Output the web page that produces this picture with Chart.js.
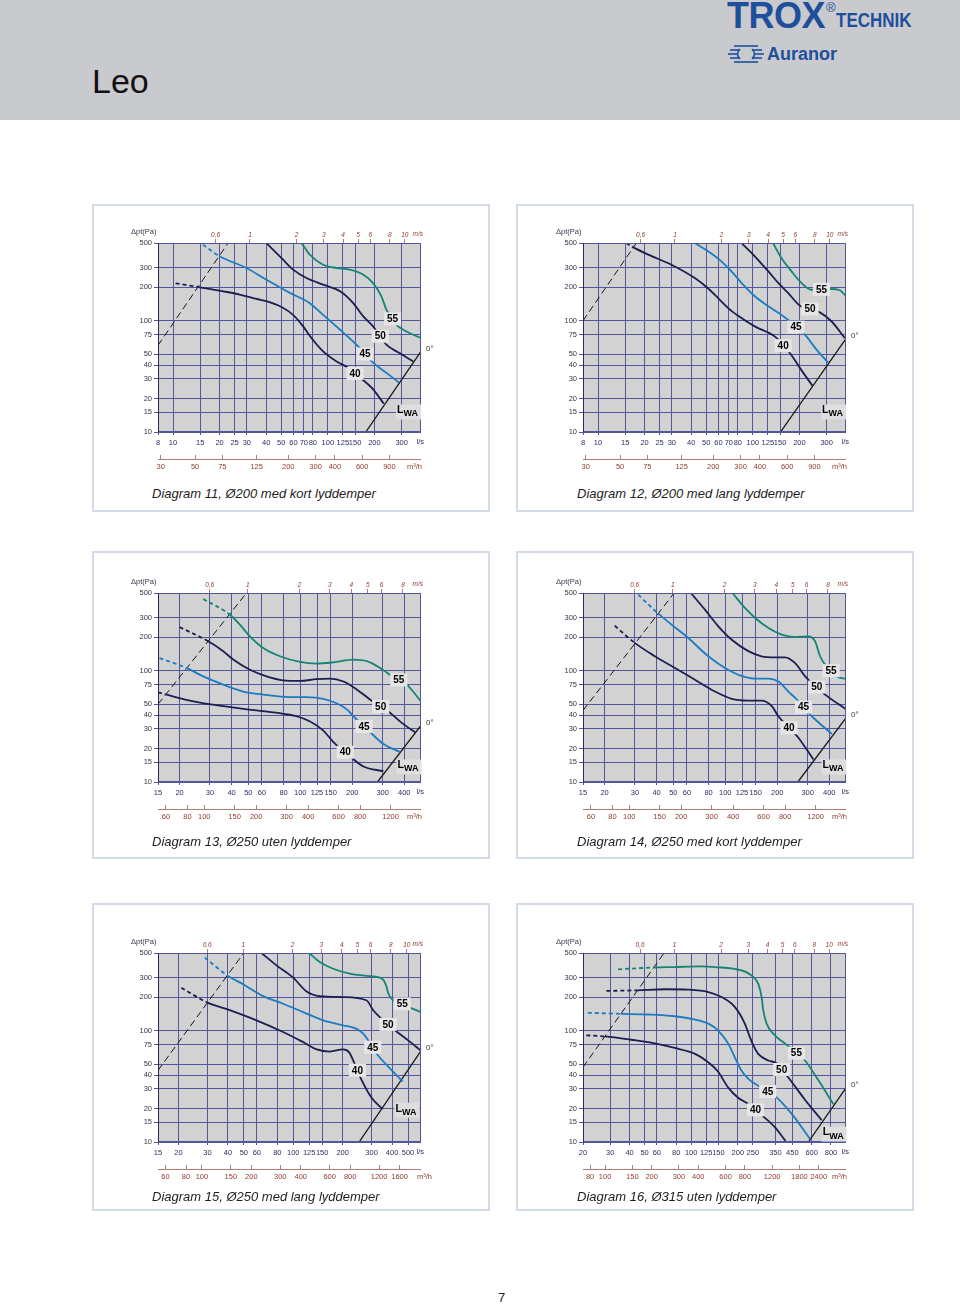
<!DOCTYPE html>
<html><head><meta charset="utf-8">
<script src="https://cdn.jsdelivr.net/npm/chart.js@4.4.0/dist/chart.umd.min.js"></script>
<style>
html,body{margin:0;padding:0;background:#fff;}
body{width:960px;height:1304px;position:relative;overflow:hidden;font-family:"Liberation Sans",Arial,Helvetica,sans-serif;}
#hdr{position:absolute;left:0;top:0;width:960px;height:120px;background:#c9cacd;}
.abs{position:absolute;white-space:nowrap;line-height:1;}
#title{left:92px;top:64px;font-size:34px;color:#111;}
#trox{left:727px;top:-2px;font-size:36px;font-weight:bold;color:#1d4f9c;letter-spacing:-0.5px;}
#reg{left:826px;top:1px;font-size:13px;color:#1d4f9c;}
#technik{left:836px;top:10px;font-size:20px;font-weight:bold;color:#1d4f9c;transform:scaleX(0.85);transform-origin:left top;}
#auranor{left:767px;top:45px;font-size:18px;font-weight:bold;color:#1d4f9c;}
#icon{position:absolute;left:728px;top:44px;}
.panel{position:absolute;width:398px;height:308px;box-sizing:border-box;border:2px solid #d3dbe6;background:#fff;}
.cap{position:absolute;font-style:italic;font-size:13px;color:#1e1e1e;white-space:nowrap;line-height:1;}
canvas{position:absolute;}
#pg{left:498px;top:1291px;font-size:13px;color:#222;}
</style>
</head>
<body>
<div id="hdr"></div>
<div id="title" class="abs">Leo</div>
<div id="trox" class="abs">TROX</div>
<div id="reg" class="abs">®</div>
<div id="technik" class="abs">TECHNIK</div>
<svg id="icon" width="36" height="20" viewBox="0 0 36 20">
  <g stroke="#1d4f9c" stroke-width="1.6">
    <line x1="6" y1="2" x2="30" y2="2"/>
    <line x1="2" y1="6" x2="12" y2="6"/><line x1="24" y1="6" x2="34" y2="6"/>
    <line x1="0" y1="10" x2="9" y2="10"/><line x1="27" y1="10" x2="36" y2="10"/>
    <line x1="2" y1="14" x2="12" y2="14"/><line x1="24" y1="14" x2="34" y2="14"/>
    <line x1="6" y1="18" x2="30" y2="18"/>
  </g>
  <path d="M12 5 Q7 10 12 15 M24 5 Q29 10 24 15" stroke="#1d4f9c" stroke-width="1.6" fill="none"/>
</svg>
<div id="auranor" class="abs">Auranor</div>

<div class="panel" style="left:92px;top:204px"></div>
<div class="panel" style="left:516px;top:204px"></div>
<div class="panel" style="left:92px;top:551px"></div>
<div class="panel" style="left:516px;top:551px"></div>
<div class="panel" style="left:92px;top:903px"></div>
<div class="panel" style="left:516px;top:903px"></div>

<canvas id="c11" width="398" height="281" style="left:92px;top:204px"></canvas>
<canvas id="c12" width="398" height="281" style="left:517px;top:204px"></canvas>
<canvas id="c13" width="398" height="281" style="left:92px;top:554px"></canvas>
<canvas id="c14" width="398" height="281" style="left:517px;top:554px"></canvas>
<canvas id="c15" width="398" height="281" style="left:92px;top:914px"></canvas>
<canvas id="c16" width="398" height="281" style="left:517px;top:914px"></canvas>

<div class="cap" style="left:152px;top:487px">Diagram 11, Ø200 med kort lyddemper</div>
<div class="cap" style="left:577px;top:487px">Diagram 12, Ø200 med lang lyddemper</div>
<div class="cap" style="left:152px;top:835px">Diagram 13, Ø250 uten lyddemper</div>
<div class="cap" style="left:577px;top:835px">Diagram 14, Ø250 med kort lyddemper</div>
<div class="cap" style="left:152px;top:1190px">Diagram 15, Ø250 med lang lyddemper</div>
<div class="cap" style="left:577px;top:1190px">Diagram 16, Ø315 uten lyddemper</div>
<div id="pg" class="abs">7</div>

<script>
// ---------- tick values ----------
const yTicks = [10, 15, 20, 30, 40, 50, 75, 100, 200, 300, 500];

const d11x = [8, 10, 15, 20, 25, 30, 40, 50, 60, 70, 80, 100, 125, 150, 200, 300];
const d11m3 = [30, 50, 75, 125, 200, 300, 400, 600, 900];
const d11ms = [0.6, 1, 2, 3, 4, 5, 6, 8, 10];
const d13x = [15, 20, 30, 40, 50, 60, 80, 100, 125, 150, 200, 300, 400];
const d13m3 = [60, 80, 100, 150, 200, 300, 400, 600, 800, 1200];
const d13ms = [0.6, 1, 2, 3, 4, 5, 6, 8];
const d15x = [15, 20, 30, 40, 50, 60, 80, 100, 125, 150, 200, 300, 400, 500];
const d15m3 = [60, 80, 100, 150, 200, 300, 400, 600, 800, 1200, 1600];
const d15ms = [0.6, 1, 2, 3, 4, 5, 6, 8, 10];
const d16x = [20, 30, 40, 50, 60, 80, 100, 125, 150, 200, 250, 350, 450, 600, 800];
const d16m3 = [80, 100, 150, 200, 300, 400, 600, 800, 1200, 1800, 2400];
const d16ms = [0.6, 1, 2, 3, 4, 5, 6, 8, 10];

// ---------- series: [l/s, Pa] ----------
// Diagram 11
const d11c40 = [[10.4,217],[14.9,200],[21.1,184],[27,172],[34.6,157],[40.1,150],[50.2,133],[59.7,113],[69.3,89],[78.4,70],[93.3,53],[114,43],[135,38],[161,31],[192,25],[230,18]];
const d11c45 = [[15.6,483],[20,380],[29.8,298],[40.1,234],[56.8,178],[76.5,144],[93.3,113],[120,83],[153,61],[196,42],[239,34],[287,28]];
const d11c50 = [[40.1,500],[51.4,354],[59.7,288],[72.8,242],[93.3,211],[120,184],[146,144],[169,110],[196,89],[239,61],[292,51],[356,43]];
const d11c55 = [[67.6,500],[76.5,393],[93.3,319],[114,298],[139,288],[169,260],[196,218],[222,166],[239,126],[278,92],[322,80],[400,70]];
const d11lim = [[8,60],[22.7,500]];
const d11lwa = [[176,10],[400,53]];
// Diagram 12
const d12c40 = [[15.2,500],[16.6,464],[21.1,393],[29.8,319],[42.2,242],[50.2,201],[59.7,160],[69.3,130],[80.4,111],[103,89],[139,72],[174,51],[206,36],[243,26]];
const d12c45 = [[42.2,500],[51.4,421],[62.7,342],[72.8,278],[84.5,219],[103,166],[126,135],[153,113],[217,75],[258,55],[307,42]];
const d12c50 = [[84.5,500],[103,380],[126,278],[146,219],[169,178],[201,137],[271,119],[322,99],[393,70]];
const d12c55 = [[135,500],[153,367],[178,278],[206,219],[239,190],[322,193],[365,188],[400,166]];
const d12lim = [[8,100],[17.7,500]];
const d12lwa = [[151,10],[400,69]];
// Diagram 13
const d13c40 = [[15,64],[16.8,61],[22.9,54],[35.8,48],[55.8,44],[79.7,41],[95.2,39],[114,35],[136,29],[155,23],[194,17],[232,13.8],[303,12.5]];
const d13c45 = [[15.3,130],[21.9,106],[27.4,89],[35.8,75],[46.7,65],[61,61],[87.1,58],[109,58],[136,56],[162,51],[186,45],[203,39],[254,28],[303,22],[379,18.6]];
const d13c50 = [[20,247],[29.3,184],[35.8,150],[40.9,126],[51.1,102],[63.8,89],[79.7,82],[99.6,81],[124,84],[149,85],[178,80],[212,68],[254,55],[324,43],[387,34],[463,28]];
const d13c55 = [[27.4,442],[39.1,319],[44.7,260],[51.1,204],[61,160],[76.2,135],[99.6,120],[124,116],[155,119],[203,126],[243,122],[290,106],[331,92],[414,75],[500,53]];
const d13lim = [[15,50],[48.8,500]];
const d13lwa = [[280,10],[500,32.3]];
// Diagram 14
const d14c40 = [[22.9,254],[29.9,178],[39.1,135],[51.1,106],[66.7,83],[87.1,65],[109,56],[136,54],[162,54],[186,48],[203,39],[265,25],[324,15.9]];
const d14c45 = [[31.3,483],[40.9,326],[48.8,260],[61,197],[79.7,135],[99.6,106],[124,90],[149,85],[178,85],[203,80],[232,65],[254,57],[317,39],[414,27]];
const d14c50 = [[63.2,500],[76.2,354],[91.1,251],[109,190],[136,150],[162,135],[194,132],[222,132],[254,117],[290,89],[379,61],[500,45]];
const d14c55 = [[110,500],[130,367],[149,298],[178,242],[212,211],[254,201],[303,204],[331,184],[354,135],[379,113],[442,89],[500,84]];
const d14lim = [[15,44],[50.6,500]];
const d14lwa = [[263,10],[500,37.6]];
// Diagram 15
const d15c40 = [[20.8,244],[29.6,181],[41,153],[59.7,124],[86.7,97.5],[115,79],[139,68],[167,65],[201,68],[219,64],[232,54],[261,36],[300,25],[350,19.7]];
const d15c45 = [[28.9,454],[40.1,311],[49.5,262],[65.5,205],[86.7,175],[115,147],[152,124],[201,112],[243,104],[267,94],[286,82],[329,60],[388,46],[464,35]];
const d15c50 = [[64,500],[79,387],[99.9,300],[120,227],[145,205],[201,201],[279,188],[307,153],[345,128],[416,101],[501,82],[600,66]];
const d15c55 = [[125,500],[145,415],[175,361],[221,326],[279,311],[337,300],[355,285],[368,255],[380,215],[397,195],[501,164],[600,147]];
const d15lim = [[15,44],[49.9,500]];
const d15lwa = [[252,10],[600,66]];
// Diagram 16
const d16c40 = [[21,91],[27.7,89],[41.1,83],[58.2,77],[78.3,70],[106,62],[129,52],[149,43],[173,31],[201,25],[234,22],[292,17],[347,13.6],[407,10.2]];
const d16c45 = [[21.5,145],[35.1,142],[52.7,140],[78.3,135],[106,126],[129,116],[149,101],[173,77],[191,58],[211,44],[234,37],[271,32],[347,26],[445,18],[585,10.7]];
const d16c50 = [[28.3,228],[45,231],[67.5,236],[95.6,234],[129,223],[157,201],[191,164],[222,116],[239,88],[252,74],[271,62],[315,54],[356,51],[424,38],[543,24],[696,15.7]];
const d16c55 = [[33.7,357],[57,370],[78.3,374],[117,379],[142,374],[211,349],[245,315],[271,265],[285,201],[292,153],[307,116],[347,91],[403,77],[543,54],[662,36],[828,22]];
const d16lim = [[20,47],[66.8,500]];
const d16lwa = [[571,10],[1000,30.6]];

const curveNames = ['40', '45', '50', '55'];

// ---------- style ----------
const FONT = '"Liberation Sans", Arial, Helvetica, sans-serif';
const GRID = '#53569a';
const RED = '#8e3b2c';
const REDLINE = '#b27c70';
const NAVY = '#1c1e50';
const BLUE = '#1c7cc1';
const TEAL = '#148575';
const CURVE_COLORS = [NAVY, BLUE, NAVY, TEAL];

const specs = [
  {id:'c11', diam:200, range:[8,400],  xt:d11x, m3:d11m3, ms:d11ms, curves:[d11c40,d11c45,d11c50,d11c55], lim:d11lim, lwa:d11lwa, labX:[150,174,218,262], lwaLab:[330,15.3], m3shift:0},
  {id:'c12', diam:200, range:[8,400],  xt:d11x, m3:d11m3, ms:d11ms, curves:[d12c40,d12c45,d12c50,d12c55], lim:d12lim, lwa:d12lwa, labX:[157,190,234,278], lwaLab:[330,15.3], m3shift:0},
  {id:'c13', diam:250, range:[15,500], xt:d13x, m3:d13m3, ms:d13ms, curves:[d13c40,d13c45,d13c50,d13c55], lim:d13lim, lwa:d13lwa, labX:[182,234,292,372], lwaLab:[423,13.8], m3shift:0},
  {id:'c14', diam:250, range:[15,500], xt:d13x, m3:d13m3, ms:d13ms, curves:[d14c40,d14c45,d14c50,d14c55], lim:d14lim, lwa:d14lwa, labX:[234,284,339,410], lwaLab:[423,13.8], m3shift:0},
  {id:'c15', diam:250, range:[15,600], xt:d15x, m3:d15m3, ms:d15ms, curves:[d15c40,d15c45,d15c50,d15c55], lim:d15lim, lwa:d15lwa, labX:[246,305,378,461], lwaLab:[489,19.5], m3shift:10},
  {id:'c16', diam:315, range:[20,1000],xt:d16x, m3:d16m3, ms:d16ms, curves:[d16c40,d16c45,d16c50,d16c55], lim:d16lim, lwa:d16lwa, labX:[260,312,384,478], lwaLab:[832,11.9], m3shift:0}
];

function toPts(a) { return a.map(p => ({x: p[0], y: p[1]})); }
function fmt(v) { return String(v).replace('.', ','); }
function logInterp(arr, x) {
  for (let i = 0; i < arr.length - 1; i++) {
    const [x0, y0] = arr[i], [x1, y1] = arr[i + 1];
    if (x >= x0 && x <= x1) {
      const t = (Math.log(x) - Math.log(x0)) / (Math.log(x1) - Math.log(x0));
      return Math.exp(Math.log(y0) + t * (Math.log(y1) - Math.log(y0)));
    }
  }
  return arr[arr.length - 1][1];
}
function lineAt(l, x) {
  const [[x0, y0], [x1, y1]] = l;
  const k = (Math.log(y1) - Math.log(y0)) / (Math.log(x1) - Math.log(x0));
  return Math.exp(Math.log(y0) + k * (Math.log(x) - Math.log(x0)));
}

function makeChart(s) {
  const q1 = Math.PI * Math.pow(s.diam / 1000, 2) / 4 * 1000; // l/s at 1 m/s
  const datasets = [];
  s.curves.forEach((c, i) => datasets.push({
    data: toPts(c), borderColor: CURVE_COLORS[i], borderWidth: 1.8, pointRadius: 0,
    cubicInterpolationMode: 'monotone', fill: false,
    segment: { borderDash: ctx => {
      const p0 = ctx.p0.parsed, p1 = ctx.p1.parsed;
      const mx = Math.sqrt(p0.x * p1.x), my = Math.sqrt(p0.y * p1.y);
      return my > lineAt(s.lim, mx) ? [4, 3] : undefined;
    } }
  }));
  datasets.push({data: toPts(s.lim), borderColor: '#161616', borderWidth: 1, borderDash: [7, 4], pointRadius: 0, tension: 0, fill: false});
  datasets.push({data: toPts(s.lwa), borderColor: '#161616', borderWidth: 1.3, pointRadius: 0, tension: 0, fill: false});

  const deco = {
    id: 'deco' + s.id,
    beforeDraw(ch) {
      const a = ch.chartArea, c = ch.ctx;
      c.save(); c.fillStyle = '#d2d2d2';
      c.fillRect(a.left, a.top, a.right - a.left, a.bottom - a.top);
      c.restore();
    },
    afterDraw(ch) {
      const a = ch.chartArea, c = ch.ctx, xs = ch.scales.x, ys = ch.scales.y, xm = ch.scales.xm;
      c.save();
      // plot frame
      c.strokeStyle = GRID; c.lineWidth = 1;
      c.strokeRect(Math.round(a.left) + 0.5, Math.round(a.top) + 0.5, Math.round(a.right - a.left) - 1, Math.round(a.bottom - a.top) - 1);
      c.strokeStyle = '#2a2c55';
      c.beginPath(); c.moveTo(Math.round(a.left) + 0.5, a.top); c.lineTo(Math.round(a.left) + 0.5, a.bottom); c.stroke();
      // m3/h axis line
      const ly = Math.round(xm.top + 4) + 0.5;
      c.strokeStyle = REDLINE; c.beginPath(); c.moveTo(a.left, ly); c.lineTo(a.right, ly); c.stroke();
      // axis titles / units
      c.textBaseline = 'middle';
      c.font = '7.5px ' + FONT; c.fillStyle = '#333648'; c.textAlign = 'left';
      c.fillText('Δpt(Pa)', a.left - 27, a.top - 11);
      c.font = 'italic 6.5px ' + FONT; c.fillStyle = RED; c.textAlign = 'right';
      c.fillText('m/s', a.right + 2, a.top - 8.5);
      c.font = '7.5px ' + FONT; c.fillStyle = '#2b2f62';
      c.fillText('l/s', a.right + 3, a.bottom + 10);
      c.fillStyle = RED;
      c.fillText('m³/h', a.right + 1 + s.m3shift, ly + 7.5);
      // 0° at the end of the LWA line
      const e = s.lwa[s.lwa.length - 1];
      c.font = '8px ' + FONT; c.fillStyle = '#333'; c.textAlign = 'left';
      c.fillText('0°', xs.getPixelForValue(e[0]) + 5, ys.getPixelForValue(e[1]) - 3);
      // curve labels
      c.font = 'bold 10px ' + FONT;
      s.curves.forEach((cv, i) => {
        const lx = s.labX[i];
        const px = xs.getPixelForValue(lx), py = ys.getPixelForValue(logInterp(cv, lx));
        const w = c.measureText(curveNames[i]).width;
        c.fillStyle = '#e6e6e6';
        c.fillRect(px - w / 2 - 3, py - 6.5, w + 6, 13);
        c.fillStyle = '#000'; c.textAlign = 'center';
        c.fillText(curveNames[i], px, py + 0.5);
      });
      // LWA label
      const lpx = xs.getPixelForValue(s.lwaLab[0]), lpy = ys.getPixelForValue(s.lwaLab[1]);
      c.fillStyle = '#dedede'; c.fillRect(lpx - 12, lpy - 7, 25, 15);
      c.fillStyle = '#000'; c.textAlign = 'left';
      c.font = 'bold 10.5px ' + FONT; c.fillText('L', lpx - 11, lpy - 1);
      c.font = 'bold 9px ' + FONT; c.fillText('WA', lpx - 4.5, lpy + 2.5);
      c.restore();
    }
  };

  new Chart(document.getElementById(s.id), {
    type: 'line',
    data: { datasets },
    options: {
      responsive: false, animation: false, devicePixelRatio: 1, events: [],
      layout: { padding: { left: 26, top: 27, right: 69, bottom: 0 } },
      plugins: { legend: { display: false }, tooltip: { enabled: false } },
      scales: {
        x: {
          type: 'logarithmic', position: 'bottom', min: s.range[0], max: s.range[1], weight: 0,
          afterBuildTicks: sc => { sc.ticks = s.xt.map(v => ({ value: v })); },
          afterFit: sc => { sc.height = 23; },
          grid: { color: GRID, tickColor: GRID, tickLength: 3, lineWidth: 1 },
          border: { display: false },
          ticks: { autoSkip: false, maxRotation: 0, minRotation: 0, padding: 3, color: '#2b2f62', font: { family: FONT, size: 7.5 }, callback: v => fmt(v) }
        },
        xm: {
          type: 'logarithmic', axis: 'x', position: 'bottom', min: s.range[0] * 3.6, max: s.range[1] * 3.6, weight: 1,
          afterBuildTicks: sc => { sc.ticks = s.m3.map(v => ({ value: v })); },
          afterFit: sc => { sc.height = 30; },
          grid: { drawOnChartArea: false, color: REDLINE, tickColor: REDLINE, tickLength: 4 },
          border: { display: false },
          ticks: { autoSkip: false, maxRotation: 0, minRotation: 0, padding: 3, color: RED, font: { family: FONT, size: 7.5 }, callback: v => fmt(v) }
        },
        xv: {
          type: 'logarithmic', axis: 'x', position: 'top', min: s.range[0] / q1, max: s.range[1] / q1,
          afterBuildTicks: sc => { sc.ticks = s.ms.map(v => ({ value: v })); },
          afterFit: sc => { sc.height = 12; },
          grid: { drawOnChartArea: false, color: REDLINE, tickColor: REDLINE, tickLength: 4 },
          border: { display: false },
          ticks: { autoSkip: false, maxRotation: 0, minRotation: 0, padding: 0, color: RED, font: { family: FONT, size: 6.5, style: 'italic' }, callback: v => fmt(v) }
        },
        y: {
          type: 'logarithmic', position: 'left', min: 10, max: 500,
          afterBuildTicks: sc => { sc.ticks = yTicks.map(v => ({ value: v })); },
          afterFit: sc => { sc.width = 40; },
          grid: { color: GRID, tickColor: GRID, tickLength: 4 },
          border: { display: false },
          ticks: { autoSkip: false, padding: 2, color: '#333648', font: { family: FONT, size: 7.5 }, callback: v => String(v) }
        }
      }
    },
    plugins: [deco]
  });
}

specs.forEach(makeChart);
</script>
</body></html>
